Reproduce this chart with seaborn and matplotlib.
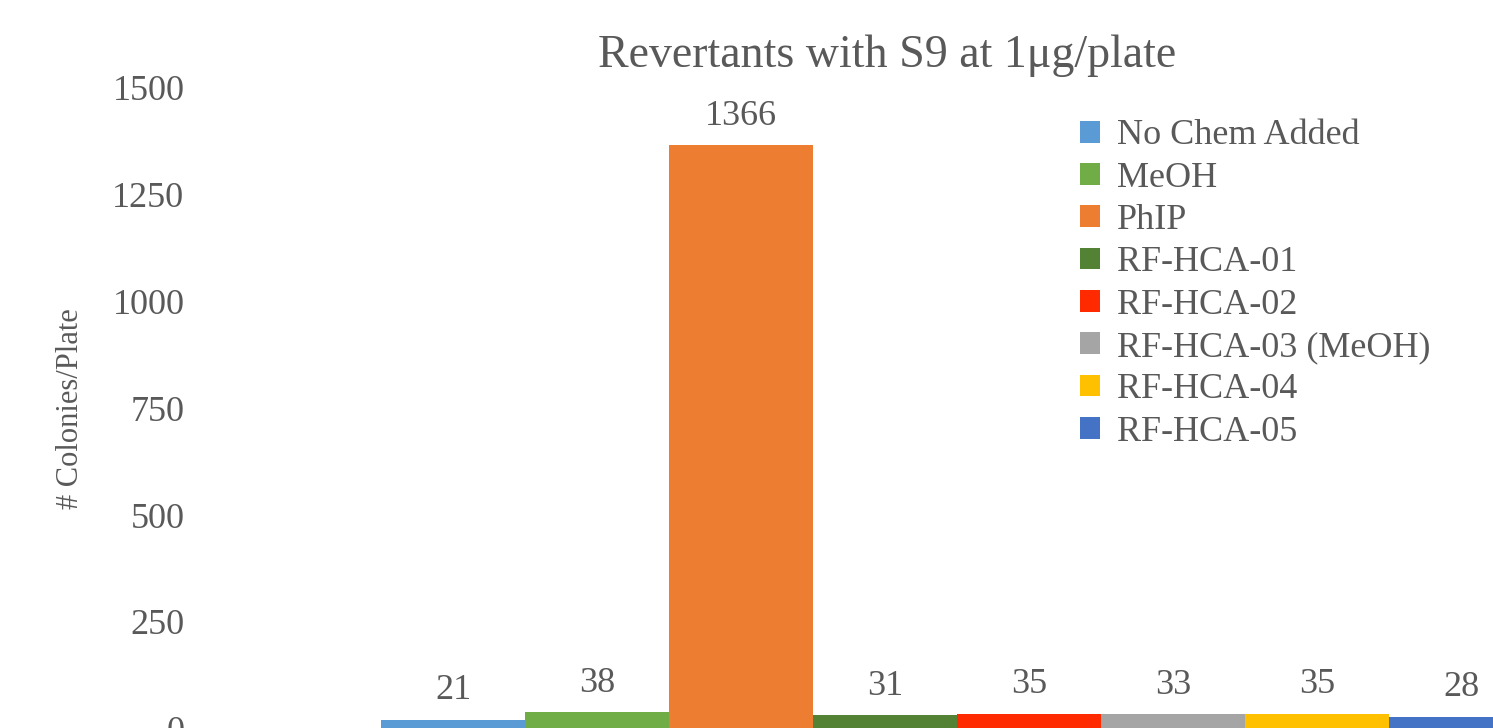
import pandas as pd
import matplotlib
matplotlib.use("Agg")
import matplotlib.pyplot as plt
import seaborn as sns

samples = ['No Chem Added', 'MeOH', 'PhIP', 'RF-HCA-01', 'RF-HCA-02',
           'RF-HCA-03 (MeOH)', 'RF-HCA-04', 'RF-HCA-05']
counts = [21, 38, 1366, 31, 35, 33, 35, 28]
colors = ['#5B9BD5', '#70AD47', '#ED7D31', '#548235', '#FF2A00',
          '#A5A5A5', '#FFC000', '#4472C4']

df = pd.DataFrame({'group': ['S9'] * len(samples), 'sample': samples, 'count': counts})

sns.set_style("white")
plt.rcParams['font.family'] = ['Liberation Serif', 'DejaVu Serif']
grey = '#595959'

fig = plt.figure(figsize=(14.93, 7.28), dpi=100)
ax = fig.add_axes([190 / 1493, -0.5 / 728, 1 - 190 / 1493, 640.5 / 728])

sns.barplot(data=df, x='group', y='count', hue='sample', palette=colors,
            width=0.8, ax=ax, saturation=1, linewidth=0)

for c in ax.containers:
    ax.bar_label(c, padding=9, fontsize=26, color=grey, clip_on=False)

ax.set_xlim(-0.5326, 0.372)
ax.set_ylim(0, 1500)
ax.set_yticks([0, 250, 500, 750, 1000, 1250, 1500])
ax.tick_params(axis='y', labelsize=26, labelcolor=grey, length=0, pad=4)
ax.set_xticks([])
ax.set_xlabel('')
ax.set_ylabel('# Colonies/Plate', fontsize=22, color=grey, labelpad=20)
sns.despine(ax=ax, left=True, bottom=True)

fig.text(0.594, 0.923, 'Revertants with S9 at 1μg/plate', fontsize=33,
         color=grey, ha='center', va='center')

leg = ax.legend(loc='upper left', bbox_to_anchor=(1066 / 1493, 1 - 105 / 728),
                bbox_transform=fig.transFigure, frameon=False, fontsize=26,
                handlelength=0.55, handleheight=0.55, handletextpad=0.45,
                labelspacing=0.258, borderaxespad=0)
for t in leg.get_texts():
    t.set_color(grey)

fig.savefig('out.png', dpi=100)
